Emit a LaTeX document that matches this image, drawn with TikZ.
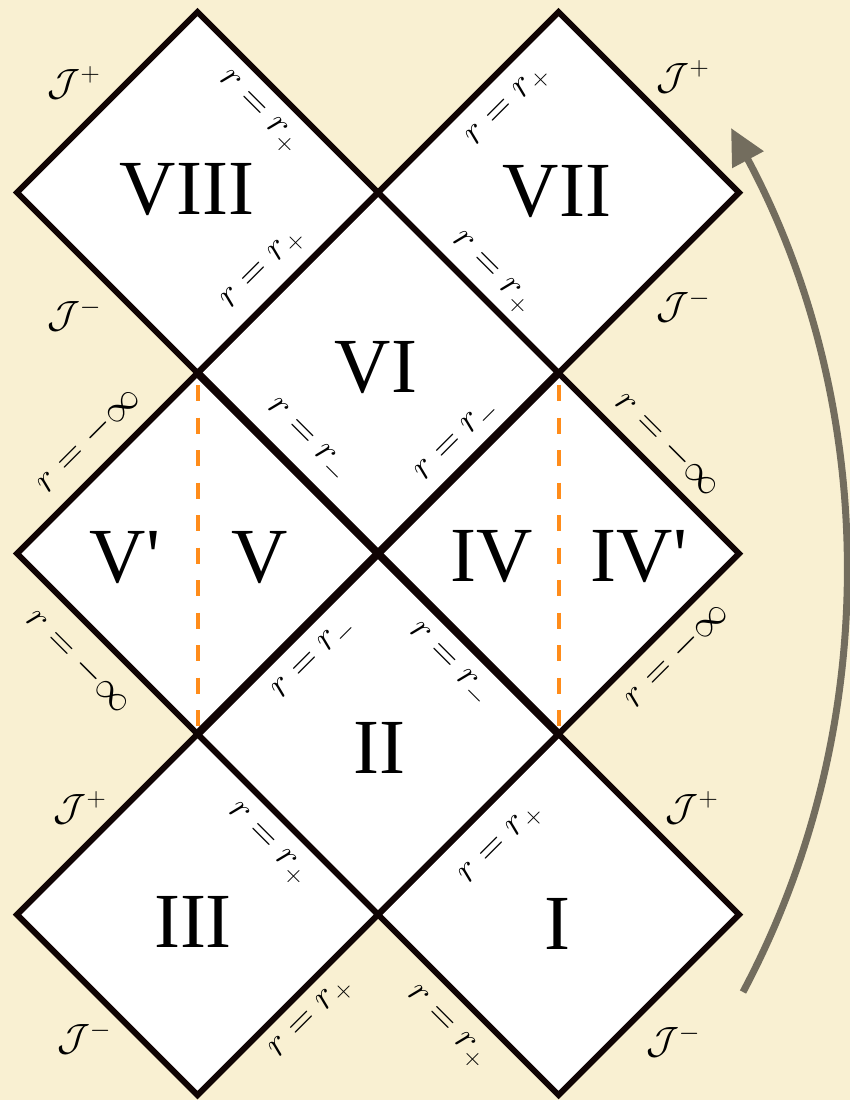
\RequirePackage{fix-cm}
\documentclass[tikz,border=0pt]{standalone}
\usepackage{fontspec}
\newfontfamily\numfont{Liberation Serif}[Ligatures=TeXOff]
\usetikzlibrary{arrows.meta}
\definecolor{bgcream}{RGB}{249,240,210}
\definecolor{ink}{RGB}{16,4,4}
\definecolor{orangeline}{RGB}{255,140,26}
\definecolor{arrowgray}{RGB}{115,109,94}
\begin{document}
\begin{tikzpicture}[x=1pt,y=-1pt,
  region/.style={fill=white},
  edge/.style={draw=ink,line width=6pt,line join=miter},
  thickedge/.style={draw=ink,line width=8pt},
  cut/.style={draw=orangeline,line width=4pt,dash pattern=on 16pt off 16.5pt},
  numlab/.style={font=\numfont\fontsize{78}{80}\selectfont,inner sep=0pt},
  lab/.style={font=\fontsize{38}{40}\selectfont,inner sep=0pt},
  uplab/.style={lab,rotate=45},
  downlab/.style={lab,rotate=-45},
  flow/.style={draw=arrowgray,line width=7pt,-{Triangle[length=36pt,width=34pt]}}]
\fill[bgcream] (0,0) rectangle (850,1100);
\useasboundingbox (0,0) rectangle (850,1100);
\foreach \i in {0,...,4}{\foreach \j in {0,...,6}{
  \coordinate (g\i\j) at ({17+180.5*\i},{12+180.5*\j});}}
% regions
\fill[region] (g01) -- (g10) -- (g21) -- (g12) -- cycle;
\fill[region] (g21) -- (g30) -- (g41) -- (g32) -- cycle;
\fill[region] (g12) -- (g21) -- (g32) -- (g23) -- cycle;
\fill[region] (g03) -- (g12) -- (g23) -- (g14) -- cycle;
\fill[region] (g23) -- (g32) -- (g43) -- (g34) -- cycle;
\fill[region] (g14) -- (g23) -- (g34) -- (g25) -- cycle;
\fill[region] (g05) -- (g14) -- (g25) -- (g16) -- cycle;
\fill[region] (g25) -- (g34) -- (g45) -- (g36) -- cycle;
% dashed cuts
\draw[cut,shorten <=12pt,shorten >=8pt] (g12) -- (g14);
\draw[cut,shorten <=12pt,shorten >=8pt] (g32) -- (g34);
% edges
\draw[edge] (g01) -- (g10) -- (g21) -- (g12) -- cycle;
\draw[edge] (g21) -- (g30) -- (g41) -- (g32) -- cycle;
\draw[edge] (g12) -- (g21) -- (g32) -- (g23) -- cycle;
\draw[edge] (g03) -- (g12) -- (g23) -- (g14) -- cycle;
\draw[edge] (g23) -- (g32) -- (g43) -- (g34) -- cycle;
\draw[edge] (g14) -- (g23) -- (g34) -- (g25) -- cycle;
\draw[edge] (g05) -- (g14) -- (g25) -- (g16) -- cycle;
\draw[edge] (g25) -- (g34) -- (g45) -- (g36) -- cycle;
\draw[thickedge] (g12) -- (g34);
\draw[thickedge] (g32) -- (g14);
% region names
\node[numlab] (nVIII) at (187,190) {VIII};
\node[numlab] (nVII) at (557,192) {VII};
\node[numlab] (nVI) at (376,368) {VI};
\node[numlab] (nVp) at (125,558) {V'};
\node[numlab] (nV) at (260,558) {V};
\node[numlab] (nIV) at (492,557) {IV};
\node[numlab] (nIVp) at (639,557) {IV'};
\node[numlab] (nII) at (379,748) {II};
\node[numlab] (nIII) at (193,922) {III};
\node[numlab] (nI) at (557,924) {I};
% scri labels
\node[lab] (j1) at (74,83) {$\mathcal{J}^+$};
\node[lab] (j2) at (74,315) {$\mathcal{J}^-$};
\node[lab] (j3) at (683,77) {$\mathcal{J}^+$};
\node[lab] (j4) at (683,306) {$\mathcal{J}^-$};
\node[lab] (j5) at (80,808) {$\mathcal{J}^+$};
\node[lab] (j6) at (84,1038) {$\mathcal{J}^-$};
\node[lab] (j7) at (692,808) {$\mathcal{J}^+$};
\node[lab] (j8) at (673,1041) {$\mathcal{J}^-$};
% edge labels
\node[uplab] (e1) at (264,270) {$r=r_+$};
\node[uplab] (e2) at (509,107) {$r=r_+$};
\node[uplab] (e3) at (458,442) {$r=r_-$};
\node[uplab] (e4) at (88,440) {$r=-\infty$};
\node[uplab] (e5) at (315,660) {$r=r_-$};
\node[uplab] (e6) at (676,655) {$r=-\infty$};
\node[uplab] (e7) at (312,1019) {$r=r_+$};
\node[uplab] (e8) at (502,845) {$r=r_+$};
\node[downlab] (e9) at (258,113) {$r=r_+$};
\node[downlab] (e10) at (491,274) {$r=r_+$};
\node[downlab] (e11) at (306,441) {$r=r_-$};
\node[downlab] (e12) at (79,661) {$r=-\infty$};
\node[downlab] (e13) at (448,665) {$r=r_-$};
\node[downlab] (e14) at (668,444) {$r=-\infty$};
\node[downlab] (e15) at (267,845) {$r=r_+$};
\node[downlab] (e16) at (446,1028) {$r=r_+$};
% time arrow
\coordinate (arrS) at (743,992);
\coordinate (arrC1) at (887,721);
\coordinate (arrC2) at (876,399);
\coordinate (arrE) at (731,128);
\draw[flow] (arrS) .. controls (arrC1) and (arrC2) .. (arrE);
\end{tikzpicture}
\end{document}
